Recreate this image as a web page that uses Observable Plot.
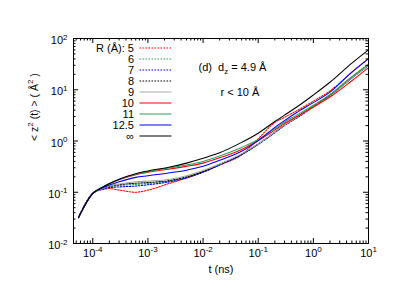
<!DOCTYPE html>
<html>
<head>
<meta charset="utf-8">
<script src="https://cdn.jsdelivr.net/npm/d3@7"></script>
<script src="https://cdn.jsdelivr.net/npm/@observablehq/plot@0.6"></script>
<style>
  html, body { margin: 0; padding: 0; background: #fff; }
  #chart svg { font-family: "Liberation Sans", Arial, Helvetica, sans-serif; }
</style>
</head>
<body>
<div id="chart"></div>
<script>
// ---- data ----
const t = [5.5e-5, 1e-4, 1.5e-4, 2e-4, 3e-4, 6e-4, 1e-3, 2.5e-3, 5e-3, 1e-2, 2e-2, 5e-2, 0.1, 0.2, 0.3, 0.5, 1, 2, 5, 10];
const r5    = [0.032, 0.095, 0.113, 0.118, 0.110, 0.100, 0.110, 0.150, 0.190, 0.250, 0.340, 0.54, 1.10, 2.30, 2.9, 3.9, 6.0, 9.5, 22, 41];
const r6    = [0.032, 0.095, 0.117, 0.127, 0.135, 0.142, 0.148, 0.165, 0.195, 0.250, 0.345, 0.55, 0.88, 1.50, 2.05, 2.9, 4.8, 8.0, 18, 32];
const r7    = [0.032, 0.095, 0.115, 0.123, 0.127, 0.132, 0.140, 0.160, 0.190, 0.245, 0.340, 0.54, 0.86, 1.45, 2.0, 2.8, 4.6, 7.6, 17, 30];
const r8    = [0.032, 0.095, 0.118, 0.130, 0.140, 0.150, 0.155, 0.170, 0.200, 0.255, 0.350, 0.55, 0.87, 1.48, 2.05, 2.9, 4.7, 7.8, 17, 30];
const r9    = [0.032, 0.095, 0.118, 0.133, 0.145, 0.160, 0.165, 0.180, 0.210, 0.265, 0.355, 0.56, 0.88, 1.50, 2.05, 2.9, 4.6, 7.5, 17, 30];
const r10   = [0.032, 0.095, 0.125, 0.146, 0.175, 0.220, 0.245, 0.285, 0.320, 0.370, 0.470, 0.68, 1.02, 1.65, 2.2, 3.0, 4.6, 7.2, 15, 27];
const r11   = [0.032, 0.095, 0.125, 0.147, 0.178, 0.225, 0.250, 0.300, 0.340, 0.400, 0.510, 0.75, 1.07, 1.75, 2.35, 3.2, 5.0, 8.0, 18, 31];
const r12_5 = [0.032, 0.095, 0.122, 0.138, 0.160, 0.195, 0.210, 0.240, 0.270, 0.320, 0.420, 0.63, 1.02, 1.85, 2.5, 3.6, 5.6, 9.0, 22, 40];
const rInf  = [0.032, 0.095, 0.125, 0.148, 0.180, 0.230, 0.260, 0.310, 0.370, 0.460, 0.590, 0.94, 1.42, 2.40, 3.2, 4.6, 7.9, 14, 33, 60];

const seriesNames  = ["5", "6", "7", "8", "9", "10", "11", "12.5", "∞"];
const seriesValues = [r5, r6, r7, r8, r9, r10, r11, r12_5, rInf];
const seriesColors = ["#ff0000", "#2e9e5e", "#0000ff", "#000000", "#a8a8a8", "#ff0000", "#2e9e5e", "#0000ff", "#000000"];
const seriesDashed = [true, true, true, true, false, false, false, false, false];

const xTickExponents = [-4, -3, -2, -1, 0, 1];
const yTickExponents = [-2, -1, 0, 1, 2];

const xLabel = "t (ns)";
const yLabel = "< z^{2} (t) > ( Å^{2} )";
const annot1 = "(d)  d_{z} = 4.9 Å";
const annot2 = "r < 10 Å";
const legendTitle = "R (Å): ";

// ---- layout ----
const W = 399, H = 308;
const mL = 73, mR = 31, mT = 38, mB = 65;
const xDomain = [4.47e-5, 10];
const yDomain = [0.01, 100];
const frameW = W - mL - mR, frameH = H - mT - mB;
const xs = d3.scaleLog(xDomain, [mL, W - mR]);
const ys = d3.scaleLog(yDomain, [H - mB, mT]);

// long table
const rows = [];
seriesNames.forEach((name, k) => {
  seriesValues[k].forEach((v, i) => rows.push({series: name, k, t: t[i], v}));
});

// ticks
const xMajor = xTickExponents.map(e => Math.pow(10, e));
const yMajor = yTickExponents.map(e => Math.pow(10, e));
const xMinor = [], yMinor = [];
for (let e = -5; e <= 0; e++) for (let m = 2; m <= 9; m++) {
  const v = m * Math.pow(10, e);
  if (v > xDomain[0] && v < xDomain[1]) xMinor.push(v);
}
for (let e = -2; e <= 1; e++) for (let m = 2; m <= 9; m++) yMinor.push(m * Math.pow(10, e));

const majLen = 5, minLen = 2.5;
const dash = "1.6,1.4";

const marks = [];
// lines
seriesNames.forEach((name, k) => {
  marks.push(Plot.line(rows.filter(r => r.k === k), {
    x: "t", y: "v", stroke: seriesColors[k], strokeWidth: 1.05,
    strokeDasharray: seriesDashed[k] ? dash : null, curve: "monotone-x"
  }));
});
// frame + ticks (inward, mirrored)
marks.push(Plot.frame({stroke: "#000", strokeWidth: 1}));
marks.push(Plot.tickX(xMajor, {x: d => d, insetTop: frameH - majLen, stroke: "#000"}));
marks.push(Plot.tickX(xMajor, {x: d => d, insetBottom: frameH - majLen, stroke: "#000"}));
marks.push(Plot.tickX(xMinor, {x: d => d, insetTop: frameH - minLen, stroke: "#000"}));
marks.push(Plot.tickX(xMinor, {x: d => d, insetBottom: frameH - minLen, stroke: "#000"}));
marks.push(Plot.tickY(yMajor, {y: d => d, insetRight: frameW - majLen, stroke: "#000"}));
marks.push(Plot.tickY(yMajor, {y: d => d, insetLeft: frameW - majLen, stroke: "#000"}));
marks.push(Plot.tickY(yMinor, {y: d => d, insetRight: frameW - minLen, stroke: "#000"}));
marks.push(Plot.tickY(yMinor, {y: d => d, insetLeft: frameW - minLen, stroke: "#000"}));
// tick labels
marks.push(Plot.text(xTickExponents, {x: d => Math.pow(10, d), frameAnchor: "bottom", dy: 13,
  text: d => `10^{${d}}`, fontSize: 11, fill: "#000"}));
marks.push(Plot.text(yTickExponents, {y: d => Math.pow(10, d), frameAnchor: "left", dx: -6, dy: 2,
  textAnchor: "end", text: d => `10^{${d}}`, fontSize: 11, fill: "#000"}));
// axis labels
marks.push(Plot.text([xLabel], {frameAnchor: "bottom", dy: 29, text: d => d, fontSize: 11, fill: "#000"}));
marks.push(Plot.text([yLabel], {frameAnchor: "left", dx: -39, rotate: -90, text: d => d, fontSize: 10.5, fill: "#000"}));
// legend
const legendRows = seriesNames.map((name, i) => ({name, i, y: ys.invert(47.5 + 11 * i)}));
marks.push(Plot.text(legendRows, {x: xs.invert(133.5), y: "y", textAnchor: "end",
  text: d => (d.i === 0 ? legendTitle : "") + d.name, fontSize: 11, fill: "#000"}));
seriesNames.forEach((name, k) => {
  const lr = legendRows[k];
  marks.push(Plot.link([lr], {x1: xs.invert(139), x2: xs.invert(171), y1: "y", y2: "y",
    stroke: seriesColors[k], strokeWidth: 1.05, strokeDasharray: seriesDashed[k] ? dash : null}));
});
// annotations
marks.push(Plot.text([annot1], {x: xs.invert(198), y: ys.invert(67), textAnchor: "start", text: d => d, fontSize: 11, fill: "#000"}));
marks.push(Plot.text([annot2], {x: xs.invert(220), y: ys.invert(92), textAnchor: "start", text: d => d, fontSize: 11, fill: "#000"}));

const chart = Plot.plot({
  width: W, height: H,
  marginLeft: mL, marginRight: mR, marginTop: mT, marginBottom: mB,
  style: {fontFamily: '"Liberation Sans", Arial, Helvetica, sans-serif', background: "#fff"},
  x: {type: "log", domain: xDomain, axis: null},
  y: {type: "log", domain: yDomain, axis: null},
  marks
});

// gnuplot-style enhanced text: ^{sup} and _{sub}
function enrich(svg) {
  svg.querySelectorAll("text").forEach(el => {
    const s = el.textContent;
    if (!/[\^_]\{/.test(s)) return;
    const parts = [];
    const re = /([\^_])\{([^}]*)\}/g;
    let last = 0, m;
    while ((m = re.exec(s))) {
      if (m.index > last) parts.push({type: "n", s: s.slice(last, m.index)});
      parts.push({type: m[1] === "^" ? "sup" : "sub", s: m[2]});
      last = re.lastIndex;
    }
    if (last < s.length) parts.push({type: "n", s: s.slice(last)});
    while (el.firstChild) el.removeChild(el.firstChild);
    let shift = 0;
    parts.forEach(p => {
      const ts = document.createElementNS("http://www.w3.org/2000/svg", "tspan");
      ts.textContent = p.s;
      let target = p.type === "sup" ? -4.5 : p.type === "sub" ? 3 : 0;
      if (target !== shift) { ts.setAttribute("dy", target - shift); shift = target; }
      if (p.type !== "n") ts.setAttribute("font-size", "8");
      el.appendChild(ts);
    });
  });
}
enrich(chart);
document.getElementById("chart").appendChild(chart);
</script>
</body>
</html>
